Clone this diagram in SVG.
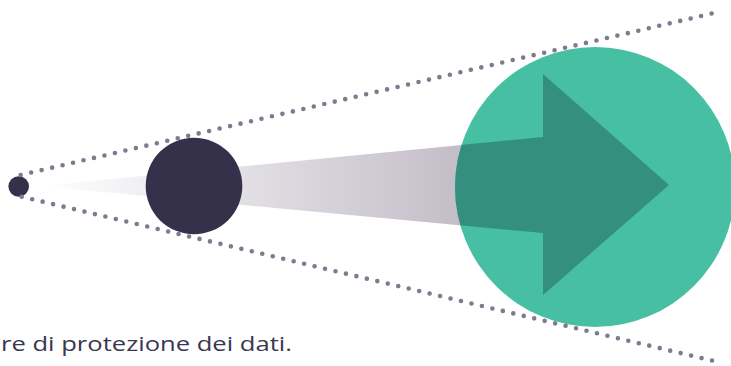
<svg xmlns="http://www.w3.org/2000/svg" width="731" height="366" viewBox="0 0 731 366">
<style>
.dots{fill:none;stroke:#7f7a8d;stroke-width:4.6;stroke-linecap:round;stroke-dasharray:0 10.75}
.dark{fill:#35314b}
.label{font-family:"Open Sans","Noto Sans",sans-serif;font-size:20px;fill:#3a3650}
</style>
<defs>
<linearGradient id="shaft" gradientUnits="userSpaceOnUse" x1="40" y1="0" x2="543" y2="0">
<stop offset="0" stop-color="#b7b0bd" stop-opacity="0"/>
<stop offset="1" stop-color="#b7b0bd" stop-opacity="1"/>
</linearGradient>
<clipPath id="inCircle"><circle cx="595" cy="187" r="140"/></clipPath>
</defs>
<rect width="731" height="366" fill="#ffffff"/>
<g id="beam">
<polygon points="40,186 543,137 543,233" fill="url(#shaft)"/>
</g>
<g id="target">
<circle cx="595" cy="187" r="140" fill="#46bfa3"/>
<polygon clip-path="url(#inCircle)" points="40,186 543,137 543,74 669,185 543,295 543,233" fill="#358f7e"/>
</g>
<g id="source">
<circle class="dark" cx="194" cy="186" r="48.3"/>
</g>
<g id="origin">
<circle class="dark" cx="18.7" cy="186.5" r="10.3"/>
</g>
<g id="connectors">
<line class="dots" x1="20.7" y1="175" x2="714" y2="13"/>
<line class="dots" x1="21.7" y1="196.7" x2="719.3" y2="362.3"/>
</g>
<g id="caption">
<text class="label" x="1" y="351" textLength="291" lengthAdjust="spacingAndGlyphs">re di protezione dei dati.</text>
</g>
</svg>
